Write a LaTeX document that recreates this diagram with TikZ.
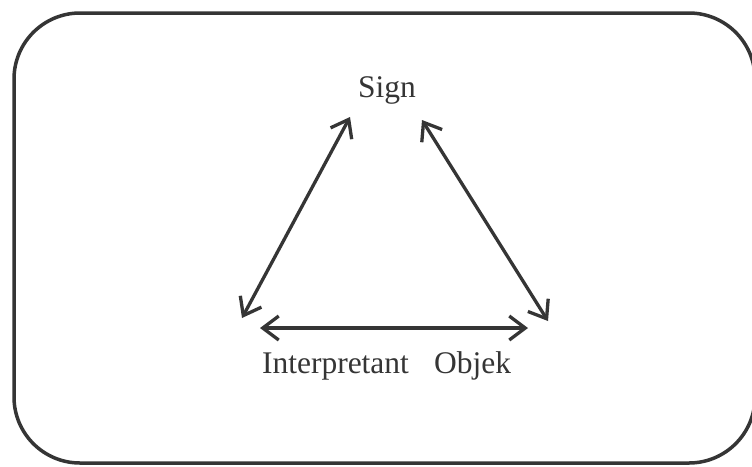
\documentclass[tikz,border=0pt]{standalone}
\usepackage{fontspec}
\setmainfont{Liberation Serif}
\usetikzlibrary{arrows.meta}
\definecolor{ink}{HTML}{353535}
\tikzset{
  frame/.style={draw=ink, line width=3.5pt, rounded corners=66pt},
  lbl/.style={anchor=base, inner sep=0pt, text=ink, font=\fontsize{31.5}{38}\selectfont},
  tipstyle/.style={},
  link/.style={draw=ink, line width=3.3pt, {Straight Barb[length=16pt,width=24pt,line width=3.3pt]}-{Straight Barb[length=16pt,width=24pt,line width=3.3pt]}}
}
\begin{document}
\begin{tikzpicture}[x=1pt,y=-1pt]
\useasboundingbox (0,0) rectangle (752,466);
\clip (0,0) rectangle (752,466);
\fill[white] (0,0) rectangle (752,466);
\draw[frame] (14,13) rectangle (755,463);
\node[lbl] (sign) at (387,97) {Sign};
\node[lbl] (interp) at (335.5,373) {Interpretant};
\node[lbl] (objek) at (472.5,373) {Objek};
\coordinate (sl) at (350,117);
\coordinate (il) at (242,318);
\coordinate (sr) at (422,120);
\coordinate (or) at (548,321);
\coordinate (ih) at (260,328);
\coordinate (oh) at (528,328);
\draw[link] (sl) -- (il);
\draw[link] (sr) -- (or);
\draw[link] (ih) -- (oh);
\end{tikzpicture}
\end{document}
